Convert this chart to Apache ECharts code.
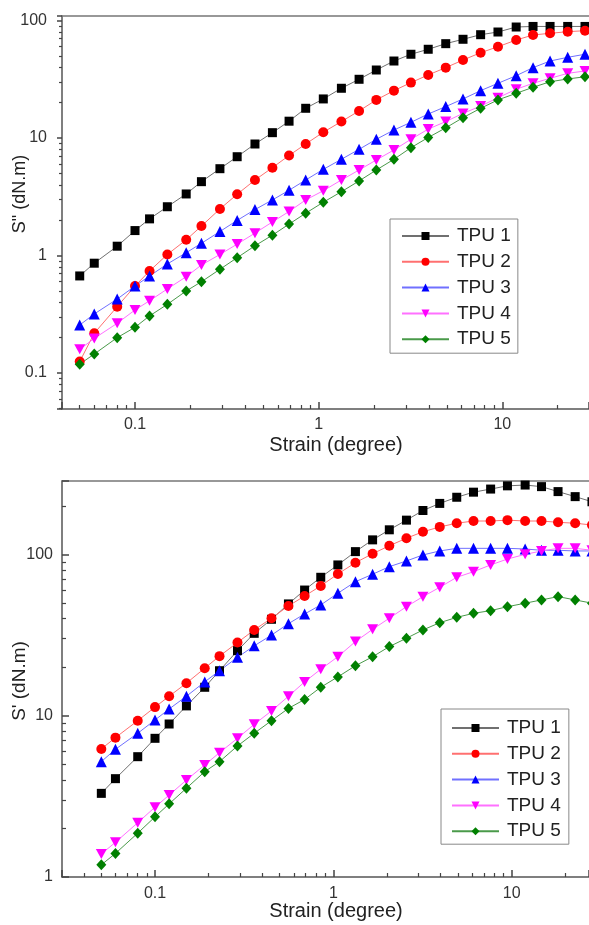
<!DOCTYPE html>
<html><head><meta charset="utf-8">
<script src="https://cdn.jsdelivr.net/npm/echarts@6/dist/echarts.min.js"></script>
<style>html,body{margin:0;padding:0;background:#fff}#c{width:589px;height:925px}</style>
</head><body><div id="c"></div>
<script>
// strain (degree), shared by both panels
const strain = [0.05,0.06,0.08,0.10,0.12,0.15,0.19,0.23,0.29,0.36,0.45,0.56,0.69,0.85,1.06,1.33,1.66,2.06,2.57,3.18,3.95,4.92,6.11,7.62,9.47,11.9,14.7,18.2,22.7,28.2];
const seriesNames = ['TPU 1','TPU 2','TPU 3','TPU 4','TPU 5'];
// Top panel: S'' (dN.m)
const lossTPU1 = [0.67,0.86,1.2,1.63,2.05,2.6,3.34,4.25,5.48,6.93,8.89,11.1,13.9,17.9,21.5,26.5,31.6,37.9,45.2,51.6,56.9,63.5,69.2,75.7,79.8,88,89,89,89,89];
const lossTPU2 = [0.125,0.218,0.367,0.55,0.738,1.02,1.36,1.78,2.49,3.32,4.39,5.59,7.10,8.89,11.2,13.8,17.0,21.1,25.3,29.6,34.4,39.7,46.1,53.2,59.8,68.2,75.3,77.8,80.3,81.9];
const lossTPU3 = [0.256,0.318,0.426,0.55,0.669,0.847,1.056,1.27,1.60,1.99,2.46,2.97,3.59,4.39,5.41,6.59,8.01,9.75,11.7,13.6,16.0,18.5,21.5,25.3,29.2,33.9,39.7,45.2,48.6,51.6];
const lossTPU4 = [0.159,0.197,0.265,0.344,0.412,0.519,0.66,0.83,1.02,1.25,1.55,1.93,2.37,2.97,3.56,4.39,5.34,6.50,7.91,9.75,11.9,13.8,16.2,18.7,22.0,26.0,29.2,32.2,35.5,37.2];
const lossTPU5 = [0.119,0.145,0.20,0.245,0.306,0.384,0.499,0.598,0.763,0.958,1.21,1.49,1.85,2.29,2.84,3.49,4.31,5.34,6.59,8.27,10.1,12.2,14.9,17.9,21.1,24.0,27.0,30.1,31.8,33.2];
// Bottom panel: S' (dN.m)
const storTPU1 = [3.30,4.07,5.57,7.24,8.88,11.5,15.0,19.0,25.3,32.4,39.6,49.3,60.1,72.1,86.0,104,123,142,163,187,207,226,243,254,266,269,263,245,228,212];
const storTPU2 = [6.22,7.31,9.31,11.3,13.2,15.9,19.7,23.4,28.4,34.0,40.2,47.9,55.2,63.7,75.6,88.8,101,113,126,138,148,156,161,161,163,161,161,158,156,152];
const storTPU3 = [5.19,6.19,7.78,9.40,11.0,13.2,16.2,19.0,23.0,27.1,31.6,37.2,42.7,48.6,57.4,67.7,75.3,83.9,91.0,99.2,105,109,109,109,109,108,106,106,105,105];
const storTPU4 = [1.39,1.64,2.17,2.71,3.22,3.99,4.95,5.90,7.24,8.84,10.7,13.2,16.2,19.4,23.2,28.8,34.3,40.2,47.4,54.7,62.5,72.1,78.1,86.0,93.6,100,105,109,109,106];
const storTPU5 = [1.19,1.40,1.87,2.36,2.84,3.55,4.50,5.19,6.49,7.78,9.31,11.1,12.6,15.0,17.4,20.4,23.2,26.8,30.2,34.0,37.7,40.7,43.1,44.8,47.4,49.8,52.2,54.7,52.2,49.8];
// tick labels
const xTickLabels = [0.1, 1, 10];
const yTopTickLabels = [0.1, 1, 10, 100];
const yBotTickLabels = [1, 10, 100];

const FONT = 'Liberation Sans, Arial, Helvetica, sans-serif';
const markerColors = ['#000000','#ff0000','#0000ff','#ff00ff','#008000'];
const lineColors = ['#707070','#ff7070','#7070ff','#ff70ff','#4a9a4a'];
const symbols = ['rect','circle','triangle','path://M0,0 L10,0 L5,9 Z','diamond'];
const symbolSizes = [9,10,11,[11,10],[10,11]];

function zip(xs, ys){ return xs.map((x,i)=>[x, ys[i]]); }

function makeSeries(values, xi, yi){
  return values.map((v,k)=>({
    name: seriesNames[k], type:'line', xAxisIndex:xi, yAxisIndex:yi,
    data: zip(strain, v), symbol: symbols[k], symbolSize: symbolSizes[k],
    showSymbol:true, showAllSymbol:true, clip:false,
    itemStyle:{color: markerColors[k], borderWidth:0},
    lineStyle:{color: lineColors[k], width:1},
    emphasis:{disabled:true}, animation:false
  }));
}

function axis(o){
  return {
    type:'log', logBase:10, gridIndex:o.grid, min:o.min, max:o.max, position:o.pos,
    axisLine:{show:true, onZero:false, lineStyle:{color:'#555', width:1.5}},
    axisTick:{show:true, inside:o.inside, length:o.tick, lineStyle:{color:'#444', width:1.5}},
    minorTick:{show:true, splitNumber:9, length:o.minor, lineStyle:{color:'#444', width:1.2}},
    axisLabel:{customValues:o.labels, margin:o.margin, fontSize:16, color:'#333', fontFamily:FONT},
    splitLine:{show:false}, minorSplitLine:{show:false}
  };
}
function borderAxis(o){
  return {
    type:'log', logBase:10, gridIndex:o.grid, min:o.min, max:o.max, position:'top',
    axisLine:{show:true, onZero:false, lineStyle:{color:'#777', width:1.5}},
    axisTick:{show:false}, minorTick:{show:false}, axisLabel:{show:false},
    splitLine:{show:false}, minorSplitLine:{show:false}
  };
}

function legend(left, top, pad){
  return {
    data: seriesNames.slice(),
    orient:'vertical', left:left, top:top,
    itemWidth:47, itemHeight:10, itemGap:5.8,
    padding:pad, borderColor:'#888', borderWidth:1, backgroundColor:'#fff',
    textStyle:{fontSize:19, color:'#222', fontFamily:FONT, lineHeight:20, padding:[0,0,0,3]},
    selectedMode:false
  };
}

const chart = echarts.init(document.getElementById('c'), null, {renderer:'canvas'});
const series = makeSeries([lossTPU1,lossTPU2,lossTPU3,lossTPU4,lossTPU5],0,0)
  .concat(makeSeries([storTPU1,storTPU2,storTPU3,storTPU4,storTPU5],1,1));

const xTop = {grid:0, min:0.04004, max:29.65, pos:'bottom', inside:true, tick:7, minor:4, labels:xTickLabels, margin:8};
const xBot = {grid:1, min:0.03009, max:27.14, pos:'bottom', inside:true, tick:7, minor:4, labels:xTickLabels, margin:9};

const option = {
  backgroundColor:'#fff',
  animation:false,
  grid:[
    {left:62, top:16, right:0, height:393, show:false},
    {left:62, top:481, right:0, height:396, show:false}
  ],
  xAxis:[
    axis(xTop),
    axis(xBot),
    borderAxis(xTop),
    borderAxis(xBot)
  ],
  yAxis:[
    axis({grid:0, min:0.0494, max:109.2, pos:'left', inside:false, tick:5, minor:3, labels:yTopTickLabels, margin:15}),
    axis({grid:1, min:1, max:285, pos:'left', inside:true, tick:7, minor:4, labels:yBotTickLabels, margin:9})
  ],
  legend:[
    legend(390, 219, [7,7,4,11]),
    legend(441, 709, [9,8,3,10])
  ],
  graphic:[
    {type:'text', x:336, y:445, style:{text:'Strain (degree)', fontSize:20, fontFamily:FONT, fill:'#222', align:'center', verticalAlign:'middle'}},
    {type:'text', x:336, y:911, style:{text:'Strain (degree)', fontSize:20, fontFamily:FONT, fill:'#222', align:'center', verticalAlign:'middle'}},
    {type:'text', x:20, y:194, rotation:Math.PI/2, style:{text:'S" (dN.m)', fontSize:18, fontFamily:FONT, fill:'#222', align:'center', verticalAlign:'middle'}},
    {type:'text', x:20, y:681, rotation:Math.PI/2, style:{text:"S' (dN.m)", fontSize:19, fontFamily:FONT, fill:'#222', align:'center', verticalAlign:'middle'}}
  ],
  series: series
};
chart.setOption(option);
</script></body></html>
